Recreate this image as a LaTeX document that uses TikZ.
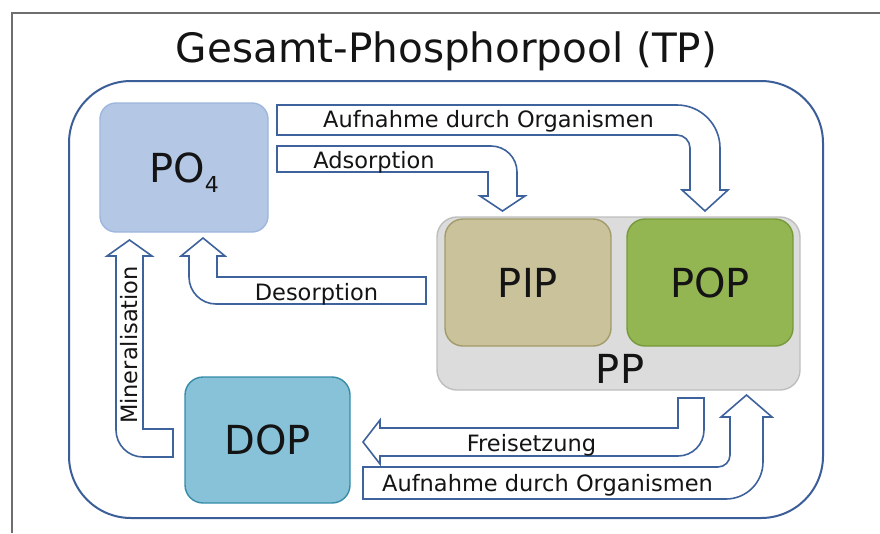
\documentclass[tikz,border=0pt]{standalone}
\usepackage{fontspec}
\setmainfont{DejaVu Sans}
\definecolor{framegray}{RGB}{110,110,110}
\definecolor{poolblue}{RGB}{59,94,152}
\definecolor{arrowblue}{RGB}{62,98,156}
\definecolor{pofill}{RGB}{180,200,230}
\definecolor{poline}{RGB}{158,182,220}
\definecolor{ppfill}{RGB}{220,220,220}
\definecolor{ppline}{RGB}{190,190,190}
\definecolor{pipfill}{RGB}{201,194,155}
\definecolor{pipline}{RGB}{163,155,106}
\definecolor{popfill}{RGB}{148,182,82}
\definecolor{popline}{RGB}{118,154,58}
\definecolor{dopfill}{RGB}{136,194,217}
\definecolor{dopline}{RGB}{52,140,168}
\definecolor{txt}{RGB}{20,20,20}
\tikzset{
  box/.style={draw, line width=1.4pt, text depth=0pt, inner sep=0pt, text=txt,
    font=\fontsize{40}{44}\selectfont},
  barrow/.style={draw=arrowblue, fill=white, line width=1.6pt, line join=miter},
  lbl/.style={anchor=base, inner sep=0pt, text=txt, font=\fontsize{22.5}{26}\selectfont},
}
\begin{document}
\begin{tikzpicture}[x=1pt,y=-1pt]
\useasboundingbox (0,0) rectangle (880,533);
% frame
\draw[framegray, line width=1.5pt] (12,533) -- (12,13) -- (880,13);
% title
\node[anchor=base, inner sep=0pt, text=txt, font=\fontsize{40.5}{44}\selectfont] (title) at (446.5,62) {Gesamt-Phosphorpool (TP)};
% outer pool
\node[draw=poolblue, line width=2pt, rounded corners=62pt, minimum width=754pt, minimum height=437pt, inner sep=0pt] (outer) at (446,299.5) {};
% boxes
\node[box, fill=pofill, draw=poline, rounded corners=16pt, minimum width=168pt, minimum height=129pt] (po4) at (184,167.5) {PO\raisebox{-10pt}{\fontsize{22}{22}\selectfont 4}};
\node[box, fill=ppfill, draw=ppline, rounded corners=20pt, minimum width=363pt, minimum height=173pt] (pp) at (618.5,303.5) {};
\node[box, fill=pipfill, draw=pipline, rounded corners=18pt, minimum width=166pt, minimum height=127pt] (pip) at (528,282.5) {PIP};
\node[box, fill=popfill, draw=popline, rounded corners=18pt, minimum width=166pt, minimum height=127pt] (pop) at (710,282.5) {POP};
\node[anchor=base, inner sep=0pt, text=txt, font=\fontsize{40}{44}\selectfont] (pplabel) at (620,383) {PP};
\node[box, fill=dopfill, draw=dopline, rounded corners=18pt, minimum width=165pt, minimum height=126pt] (dop) at (267.5,440) {DOP};
% arrow: Aufnahme (top)
\draw[barrow] (277,105) -- (677,105) .. controls (700.7,105) and (720,124.3) .. (720,148) -- (720,190) -- (728,190) -- (705,211) -- (682,190) -- (690,190) -- (690,148) .. controls (690,140.8) and (684.2,135) .. (677,135) -- (277,135) -- cycle;
\node[lbl] (l1) at (488.5,127) {Aufnahme durch Organismen};
% arrow: Adsorption
\draw[barrow] (277,146) -- (491,146) .. controls (505.4,146) and (517,157.6) .. (517,172) -- (517,196) -- (525,196) -- (502.5,211) -- (480,196) -- (488,196) -- (488,172) -- (277,172) -- cycle;
\node[lbl] (l2) at (374,168) {Adsorption};
% arrow: Desorption
\draw[barrow] (426,277) -- (217,277) -- (217,256) -- (225,256) -- (203,238) -- (181,256) -- (189,256) -- (189,277) .. controls (189,291.9) and (201.1,304) .. (216,304) -- (426,304) -- cycle;
\node[lbl] (l3) at (316.5,300) {Desorption};
% arrow: Mineralisation
\draw[barrow] (173,429) -- (143,429) -- (143,256) -- (152,256) -- (129.5,240) -- (107,256) -- (116,256) -- (116,430) .. controls (116,444.9) and (128.1,457) .. (143,457) -- (173,457) -- cycle;
\node[lbl, rotate=90] (l4) at (137,345) {Mineralisation};
% arrow: Freisetzung
\draw[barrow] (678,398) -- (704,398) -- (704,430) .. controls (704,444.4) and (692.4,456) .. (678,456) -- (380,456) -- (380,464) -- (363,442) -- (380,420) -- (380,428) -- (678,428) -- cycle;
\node[lbl] (l5) at (531.5,451) {Freisetzung};
% arrow: Aufnahme (bottom)
\draw[barrow] (363,467) -- (718,467) .. controls (724.6,467) and (730,461.6) .. (730,455) -- (730,417) -- (721,417) -- (746.5,395) -- (772,417) -- (763,417) -- (763,462) .. controls (763,482.4) and (746.4,499) .. (726,499) -- (363,499) -- cycle;
\node[lbl] (l6) at (547.5,491) {Aufnahme durch Organismen};
\end{tikzpicture}
\end{document}
